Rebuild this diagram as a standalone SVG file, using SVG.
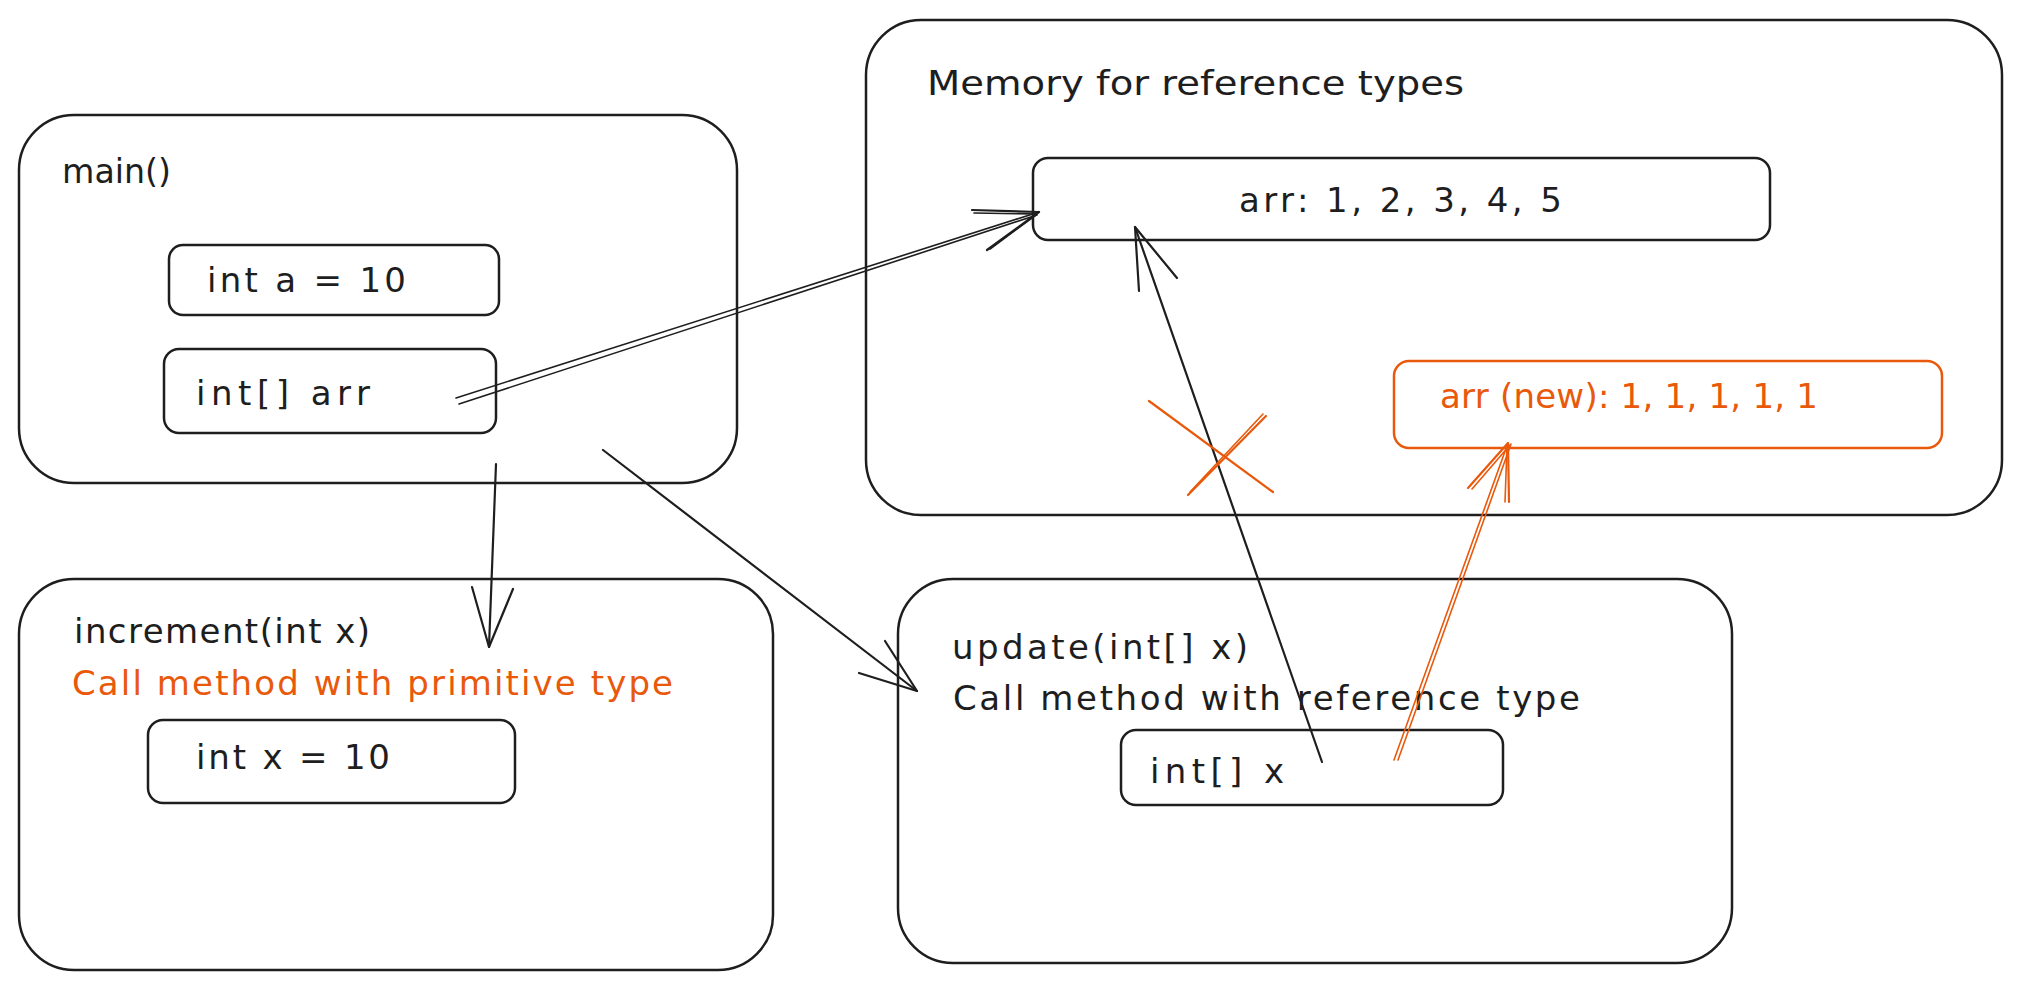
<svg xmlns="http://www.w3.org/2000/svg" width="2021" height="989" viewBox="0 0 2021 989">
<style>
.box{fill:none;stroke:#1e1e1e;stroke-width:2.5}
.obox{fill:none;stroke:#e8590c;stroke-width:2.5}
.t{font-family:"DejaVu Sans","Liberation Sans",sans-serif;font-size:34px;fill:#1e1e1e}
.ot{fill:#e8590c}
.ln{fill:none;stroke:#1e1e1e;stroke-width:2.2;stroke-linecap:round;stroke-linejoin:round}
.oln{fill:none;stroke:#e8590c;stroke-width:2.2;stroke-linecap:round;stroke-linejoin:round}
.thin{stroke-width:1.6}
</style>
<rect width="2021" height="989" fill="#ffffff"/>

<g id="memory">
<rect class="box" x="866" y="20" width="1136" height="495" rx="55"/>
<text class="t" x="927" y="95" textLength="537" lengthAdjust="spacingAndGlyphs">Memory for reference types</text>
</g>
<g id="arr-heap">
<rect class="box" x="1033" y="158" width="737" height="82" rx="15"/>
<text class="t" x="1239" y="212" textLength="323" lengthAdjust="spacing">arr: 1, 2, 3, 4, 5</text>
</g>
<g id="arr-new">
<rect class="obox" x="1394" y="361" width="548" height="87" rx="15"/>
<text class="t ot" x="1440" y="408" textLength="378" lengthAdjust="spacing">arr (new): 1, 1, 1, 1, 1</text>
</g>

<g id="main">
<rect class="box" x="19" y="115" width="718" height="368" rx="55"/>
<text class="t" x="62" y="183" textLength="109" lengthAdjust="spacingAndGlyphs">main()</text>
</g>
<g id="int-a">
<rect class="box" x="169" y="245" width="330" height="70" rx="14"/>
<text class="t" x="207" y="292" textLength="199" lengthAdjust="spacing">int a = 10</text>
</g>
<g id="int-arr">
<rect class="box" x="164" y="349" width="332" height="84" rx="15"/>
<text class="t" x="196" y="405" textLength="174" lengthAdjust="spacing">int[] arr</text>
</g>

<g id="increment">
<rect class="box" x="19" y="579" width="754" height="391" rx="55"/>
<text class="t" x="74" y="643" textLength="296" lengthAdjust="spacing">increment(int x)</text>
<text class="t ot" x="72" y="695" textLength="601" lengthAdjust="spacing">Call method with primitive type</text>
</g>
<g id="int-x">
<rect class="box" x="148" y="720" width="367" height="83" rx="15"/>
<text class="t" x="196" y="769" textLength="194" lengthAdjust="spacing">int x = 10</text>
</g>

<g id="update">
<rect class="box" x="898" y="579" width="834" height="384" rx="55"/>
<text class="t" x="952" y="659" textLength="296" lengthAdjust="spacing">update(int[] x)</text>
<text class="t" x="953" y="710" textLength="627" lengthAdjust="spacing">Call method with reference type</text>
</g>
<g id="int-arr-x">
<rect class="box" x="1121" y="730" width="382" height="75" rx="15"/>
<text class="t" x="1150" y="783" textLength="134" lengthAdjust="spacing">int[] x</text>
</g>

<g id="connectors">
<!-- arr -> heap array (double line) -->
<path class="ln thin" d="M456,398 L1039,212 M459,404 L1037,215"/>
<path class="ln" d="M972,210 L1039,212 M987,250 L1039,212"/>
<path class="ln thin" d="M974,213 L1037,214 M990,249 L1036,215"/>
<!-- main -> increment -->
<path class="ln" d="M496,464 L489,647"/>
<path class="ln" d="M472,587 L489,647 L513,589"/>
<!-- main -> update -->
<path class="ln" d="M603,450 L917,691"/>
<path class="ln" d="M885,641 L917,691 L859,673"/>
<!-- int[] x -> heap array -->
<path class="ln" d="M1322,762 L1135,227"/>
<path class="ln" d="M1139,291 L1135,227 L1177,278"/>
<!-- int[] x -> new array (orange, double line) -->
<path class="oln thin" d="M1394,760 L1508,443 M1398,760 L1511,444"/>
<path class="oln" d="M1468,488 L1508,443 L1509,502"/>
<path class="oln thin" d="M1472,489 L1510,445 M1505,502 L1507,446"/>
<!-- orange cross -->
<path class="oln" d="M1149,401 L1273,492 M1266,416 L1188,495"/>
<path class="oln thin" d="M1263,414 L1190,492"/>
</g>
</svg>
